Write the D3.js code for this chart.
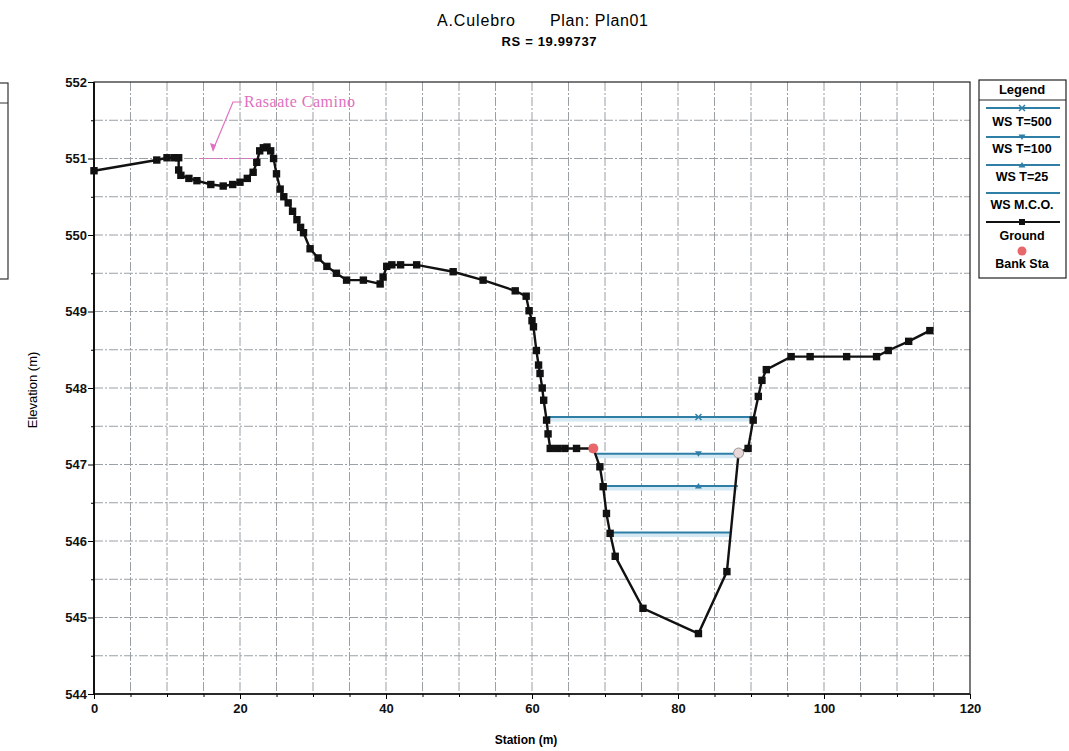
<!DOCTYPE html>
<html><head><meta charset="utf-8">
<script src="https://cdn.jsdelivr.net/npm/d3@7"></script>
<style>body{margin:0;background:#fff}svg{display:block}</style>
</head><body>
<svg id="c" width="1069" height="751"></svg>
<script>
const groundStation = [0,8.6,10.0,11.0,11.6,11.6,11.9,13.0,14.1,16.0,17.7,19.0,20.0,21.0,21.8,22.3,22.7,23.2,23.7,24.2,24.6,25.0,25.5,26.0,26.6,27.2,27.8,28.3,28.7,29.6,30.7,31.9,33.2,34.6,36.9,39.2,39.6,40.1,40.8,42.0,44.2,49.2,53.3,57.7,59.2,59.6,60.0,60.2,60.6,60.9,61.1,61.4,61.6,62.0,62.2,62.5,63.5,64.5,66.1,68.4,69.3,69.75,70.2,70.7,71.4,75.2,82.8,86.7,88.3,89.6,90.3,91.0,91.5,92.1,95.5,98.1,103.1,107.2,108.8,111.6,114.5];
const groundElev = [550.84,550.98,551.01,551.01,551.01,550.85,550.78,550.74,550.71,550.66,550.64,550.66,550.69,550.74,550.82,550.95,551.10,551.14,551.15,551.10,551.00,550.80,550.60,550.50,550.42,550.31,550.20,550.10,550.03,549.82,549.70,549.59,549.50,549.41,549.41,549.36,549.45,549.59,549.61,549.61,549.61,549.52,549.41,549.27,549.20,549.01,548.88,548.80,548.49,548.30,548.19,548.00,547.84,547.58,547.40,547.21,547.21,547.21,547.21,547.21,546.97,546.71,546.36,546.10,545.80,545.12,544.79,545.60,547.15,547.21,547.58,547.89,548.10,548.24,548.41,548.41,548.41,548.41,548.49,548.61,548.75];
const wsNames = ["WS T=500","WS T=100","WS T=25","WS M.C.O."];
const wsElev = [547.62,547.14,546.72,546.11];
const wsLeft = [62.2,68.8,69.8,70.9];
const wsRight = [90.3,88.0,88.2,87.1];
const wsMarker = ["x","down","up","none"];
const wsMarkerStation = 82.8;
const bankStation = [68.4, 88.3];
const bankElev = [547.21, 547.15];
const xTicks = [0,20,40,60,80,100,120];
const yTicks = [544,545,546,547,548,549,550,551,552];
const legendLabels = ["WS T=500","WS T=100","WS T=25","WS M.C.O.","Ground","Bank Sta"];
const rasanteStation = [14.5, 22.3];
const rasanteElev = 551.0;
const rasanteLabel = "Rasaate Camino";

const svg = d3.select("#c");
const L=94,R=970,T=82,B=694;
const x = d3.scaleLinear().domain([0,120]).range([L,R]);
const y = d3.scaleLinear().domain([544,552]).range([B,T]);
const wsColor = "#2f7ea6";
const FONT = "Liberation Sans, Arial, sans-serif";

// title
svg.append("text").attr("x",476).attr("y",26).attr("text-anchor","middle")
  .attr("font-family",FONT).attr("font-size",16).attr("textLength",78).text("A.Culebro");
svg.append("text").attr("x",599).attr("y",26).attr("text-anchor","middle")
  .attr("font-family",FONT).attr("font-size",16).attr("textLength",98).text("Plan: Plan01");
svg.append("text").attr("x",549).attr("y",46).attr("text-anchor","middle")
  .attr("font-family",FONT).attr("font-weight","bold").attr("font-size",13).attr("textLength",95).text("RS = 19.99737");

// grid
const g = svg.append("g");
g.selectAll(".vg").data(d3.range(5,120,5)).join("line")
  .attr("x1",d=>x(d)).attr("x2",d=>x(d)).attr("y1",T).attr("y2",B)
  .attr("stroke","#9aa0a4").attr("stroke-width",1).attr("stroke-dasharray","9,2,2,2");
g.selectAll(".hg").data(d3.range(544.5,552,0.5)).join("line")
  .attr("x1",L).attr("x2",R).attr("y1",d=>y(d)).attr("y2",d=>y(d))
  .attr("stroke","#9aa0a4").attr("stroke-width",1).attr("stroke-dasharray","9,2,2,2");

// frame
svg.append("rect").attr("x",L).attr("y",T).attr("width",R-L).attr("height",B-T)
  .attr("fill","none").attr("stroke","#222").attr("stroke-width",1.2);
svg.append("line").attr("x1",L).attr("x2",L).attr("y1",T).attr("y2",B).attr("stroke","#111").attr("stroke-width",2);
svg.append("line").attr("x1",L).attr("x2",R).attr("y1",B).attr("y2",B).attr("stroke","#111").attr("stroke-width",1.5);

// axes
const ax = svg.append("g").attr("transform",`translate(0,${B})`)
  .call(d3.axisBottom(x).tickValues(xTicks).tickSize(5).tickFormat(d3.format("d")));
ax.select(".domain").remove();
ax.selectAll("text").attr("font-family",FONT).attr("font-weight","bold").attr("font-size",13).attr("fill","#111").attr("dy","0.85em");
const axm = svg.append("g").attr("transform",`translate(0,${B})`)
  .call(d3.axisBottom(x).tickValues(d3.range(5,120,5).filter(d=>d%20)).tickSize(3).tickFormat(""));
axm.select(".domain").remove();
const ay = svg.append("g").attr("transform",`translate(${L},0)`)
  .call(d3.axisLeft(y).tickValues(yTicks).tickSize(6).tickFormat(d3.format("d")));
ay.select(".domain").remove();
ay.selectAll("text").attr("font-family",FONT).attr("font-weight","bold").attr("font-size",13).attr("fill","#111").attr("dx","0.15em");
const aym = svg.append("g").attr("transform",`translate(${L},0)`)
  .call(d3.axisLeft(y).tickValues(d3.range(544.5,552,1)).tickSize(3).tickFormat(""));
aym.select(".domain").remove();

svg.append("text").attr("x",526).attr("y",744).attr("text-anchor","middle")
  .attr("font-family",FONT).attr("font-weight","bold").attr("font-size",12).text("Station (m)");
svg.append("text").attr("transform","translate(37,390) rotate(-90)").attr("text-anchor","middle")
  .attr("font-family",FONT).attr("font-size",13).text("Elevation (m)");

// water surfaces
const ws = wsNames.map((n,i)=>({n,e:wsElev[i],l:wsLeft[i],r:wsRight[i],m:wsMarker[i]}));
svg.selectAll(".wsg").data(ws).join("line")
  .attr("x1",d=>x(d.l)).attr("x2",d=>x(d.r)).attr("y1",d=>y(d.e)+2.5).attr("y2",d=>y(d.e)+2.5)
  .attr("stroke","#d4e9f4").attr("stroke-width",4);
svg.selectAll(".ws").data(ws).join("line")
  .attr("x1",d=>x(d.l)).attr("x2",d=>x(d.r)).attr("y1",d=>y(d.e)).attr("y2",d=>y(d.e))
  .attr("stroke",wsColor).attr("stroke-width",2);
function marker(sel, type, cx, cy){
  if(type==="x"){ sel.append("path").attr("d",`M${cx-3},${cy-3}L${cx+3},${cy+3}M${cx-3},${cy+3}L${cx+3},${cy-3}`).attr("stroke",wsColor).attr("stroke-width",1.5); }
  else if(type==="down"){ sel.append("path").attr("d",`M${cx-3.5},${cy-2.5}L${cx+3.5},${cy-2.5}L${cx},${cy+3}Z`).attr("fill",wsColor); }
  else if(type==="up"){ sel.append("path").attr("d",`M${cx-3.5},${cy+2.5}L${cx+3.5},${cy+2.5}L${cx},${cy-3}Z`).attr("fill",wsColor); }
}
ws.forEach(d=>marker(svg, d.m, x(wsMarkerStation), y(d.e)));

// rasante
svg.append("line").attr("x1",x(rasanteStation[0])).attr("x2",x(rasanteStation[1]))
  .attr("y1",y(rasanteElev)).attr("y2",y(rasanteElev))
  .attr("stroke","#e070c0").attr("stroke-width",1.2).attr("stroke-dasharray","4,2");
svg.append("path").attr("d",`M242,102L233,102L213,150`).attr("fill","none").attr("stroke","#e070c0").attr("stroke-width",1.2);
svg.append("path").attr("d",`M213,152L210,143L216,145Z`).attr("fill","#e070c0");
svg.append("text").attr("x",244).attr("y",107).attr("font-family","Liberation Serif, Times New Roman, serif")
  .attr("font-size",16).attr("fill","#e070c0").attr("textLength",111).text(rasanteLabel);

// ground
const ground = groundStation.map((s,i)=>[s,groundElev[i]]);
svg.append("path").datum(ground).attr("fill","none").attr("stroke","#111").attr("stroke-width",2.4)
  .attr("d",d3.line().x(d=>x(d[0])).y(d=>y(d[1])));
svg.selectAll(".gm").data(ground).join("rect")
  .attr("x",d=>x(d[0])-3.7).attr("y",d=>y(d[1])-3.7).attr("width",7.4).attr("height",7.4).attr("fill","#111");

// bank stations
svg.selectAll(".bk").data(bankStation.map((s,i)=>[s,bankElev[i]])).join("circle")
  .attr("cx",d=>x(d[0])).attr("cy",d=>y(d[1])).attr("r",5)
  .attr("fill",(d,i)=>i===0?"#e8676b":"#ead7d7").attr("stroke",(d,i)=>i===0?"none":"#999");

// legend
const lg = svg.append("g");
lg.append("rect").attr("x",979).attr("y",80).attr("width",87).attr("height",198).attr("fill","#fff").attr("stroke","#222").attr("stroke-width",1.2);
lg.append("line").attr("x1",979).attr("x2",1066).attr("y1",100).attr("y2",100).attr("stroke","#222");
lg.append("text").attr("x",1022).attr("y",94).attr("text-anchor","middle").attr("font-family",FONT).attr("font-weight","bold").attr("font-size",13).text("Legend");
const lineY=[108,137,165,193,222], textY=[126,153,181,209,240,268];
legendLabels.forEach((t,i)=>{
  lg.append("text").attr("x",1022).attr("y",textY[i]).attr("text-anchor","middle").attr("font-family",FONT).attr("font-weight","bold").attr("font-size",12.5).text(t);
});
for(let i=0;i<4;i++){
  lg.append("line").attr("x1",986).attr("x2",1060).attr("y1",lineY[i]).attr("y2",lineY[i]).attr("stroke",wsColor).attr("stroke-width",2);
  marker(lg, wsMarker[i], 1022, lineY[i]);
}
lg.append("line").attr("x1",986).attr("x2",1060).attr("y1",lineY[4]).attr("y2",lineY[4]).attr("stroke","#111").attr("stroke-width",2);
lg.append("rect").attr("x",1019).attr("y",lineY[4]-3).attr("width",6).attr("height",6).attr("fill","#111");
lg.append("circle").attr("cx",1022).attr("cy",251).attr("r",4.5).attr("fill","#e8676b");

// partial box fragment at far left
svg.append("rect").attr("x",-5).attr("y",83).attr("width",13).attr("height",196).attr("fill","none").attr("stroke","#333").attr("stroke-width",1.2);
svg.append("line").attr("x1",0).attr("x2",8).attr("y1",103).attr("y2",103).attr("stroke","#333");
</script>
</body></html>
